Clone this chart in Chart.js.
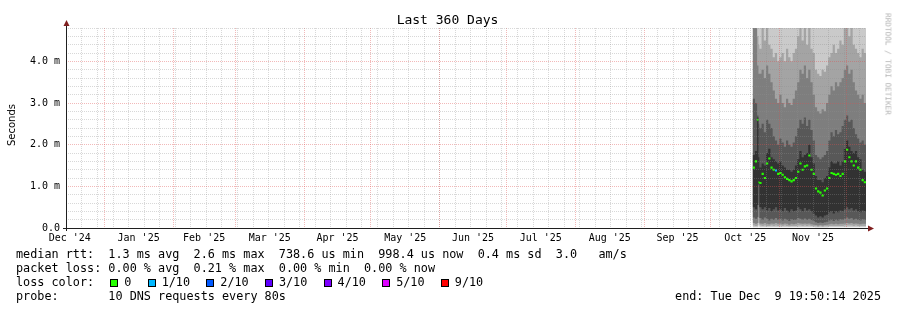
<!DOCTYPE html>
<html lang="en">
<head>
<meta charset="utf-8" />
<title>Last 360 Days</title>
<script src="https://cdnjs.cloudflare.com/ajax/libs/Chart.js/4.4.0/chart.umd.js"></script>
<style>
    body { margin: 0; background: #fff; }
    #wrap { position: relative; width: 897px; height: 310px; font-family: 'DejaVu Sans Mono', monospace; color: #000; }
    #wrap .txt { position: absolute; white-space: pre; }
    #title { left: 0; width: 895px; top: 12px; text-align: center; font-size: 13px; line-height: 15px; }
    #ylab { left: 12px; top: 125px; font-family: 'DejaVu Sans', sans-serif; font-size: 10px; line-height: 12px;
            transform: translate(-50%, -50%) rotate(-90deg); }
    #mark { left: 888px; top: 64px; font-size: 7.7px; line-height: 9px; color: #b4b4b4;
            transform: translate(-50%, -50%) rotate(90deg); }
    #legend { left: 16px; top: 247px; font-size: 11.8px; line-height: 14px; }
    #end { right: 16px; top: 289px; font-size: 11.8px; line-height: 14px; }
    .sq { display: inline-block; box-sizing: border-box; width: 8px; height: 8px; margin: 0 6px 0 2px;
          border: 1px solid #000; vertical-align: -1px; }
</style>
</head>
<body>
<div id="wrap">
    <canvas id="chart"></canvas>
    <div class="txt" id="title">Last 360 Days</div>
    <div class="txt" id="ylab">Seconds</div>
    <div class="txt" id="mark">RRDTOOL / TOBI OETIKER</div>
    <div class="txt" id="legend"></div>
    <div class="txt" id="end">end: Tue Dec  9 19:50:14 2025</div>
</div>
<script>
// x is days since the start of the 360 day window (Dec 14 2024 19:50)
const monthStarts = [-13.83, 17.17, 48.17, 76.17, 107.17, 137.17, 168.17, 198.17, 229.17, 260.17, 290.17, 321.17, 351.17];
const monthLabels = ["Dec '24", "Jan '25", "Feb '25", "Mar '25", "Apr '25", "May '25", "Jun '25",
                     "Jul '25", "Aug '25", "Sep '25", "Oct '25", "Nov '25"];
const firstSunday = 7.17;

const lossLabels = ['0', '1/10', '2/10', '3/10', '4/10', '5/10', '9/10'];
const lossColors = ['#26ff00', '#00b8ff', '#0059ff', '#5e00ff', '#7e00ff', '#dd00ff', '#ff0000'];

const days = [309, 310, 311, 311.6,
    312, 313, 314, 315, 316, 317, 318, 319, 320, 321,
    322, 323, 324, 325, 326, 327, 328, 329, 330, 331,
    332, 333, 334, 335, 336, 337, 338, 339, 340, 341,
    342, 343, 344, 345, 346, 347, 348, 349, 350, 351,
    352, 353, 354, 355, 356, 357, 358, 359, 360];

// median rtt in ms
const median = [1.45, 1.60, 2.60, 1.10,
    1.08, 1.30, 1.20, 1.55, 1.67, 1.45, 1.40, 1.38, 1.30, 1.32,
    1.28, 1.22, 1.18, 1.15, 1.12, 1.15, 1.20, 1.35, 1.55, 1.40,
    1.48, 1.50, 1.74, 1.40, 1.30, 0.95, 0.88, 0.85, 0.78, 0.90,
    0.95, 1.20, 1.32, 1.30, 1.28, 1.30, 1.25, 1.30, 1.60, 1.88,
    1.70, 1.60, 1.50, 1.60, 1.45, 1.40, 1.15, 1.10, 1.05];

// index into lossColors
const loss = [0, 0, 0, 0,
    0, 0, 0, 0, 0, 0, 0, 1, 0, 0,
    0, 0, 0, 0, 0, 0, 0, 0, 0, 0,
    0, 0, 0, 0, 0, 0, 0, 0, 0, 0,
    0, 0, 0, 0, 0, 0, 0, 0, 0, 0,
    0, 0, 0, 0, 0, 0, 0, 0, 0];

// sorted pings (smoke), ms
const p10 = [6.2, 6.0, 6.1, 5.9,
    5.8, 6.0, 6.1, 6.0, 5.9, 5.8, 5.7, 5.8, 5.9, 5.7,
    5.8, 5.6, 5.9, 5.8, 5.7, 5.8, 5.9, 6.0, 6.1, 6.0,
    6.1, 5.9, 6.2, 6.0, 5.8, 5.4, 5.3, 5.2, 5.4, 5.3,
    5.5, 5.7, 5.8, 5.9, 5.8, 6.0, 6.0, 6.1, 6.2, 6.3,
    6.1, 6.2, 6.0, 5.8, 5.7, 5.6, 5.8, 5.7, 5.7];
const p9 = [5.2, 5.1, 4.6, 4.4,
    4.3, 4.9, 4.5, 5.0, 4.4, 4.3, 4.1, 4.2, 4.0, 4.1,
    4.2, 4.0, 4.3, 4.1, 4.0, 4.2, 4.3, 4.6, 5.0, 4.5,
    4.9, 4.4, 4.8, 4.3, 4.2, 3.8, 3.7, 3.65, 3.8, 3.75,
    3.9, 4.1, 4.2, 4.4, 4.2, 4.3, 4.5, 4.4, 4.9, 5.0,
    4.6, 4.8, 4.4, 4.3, 4.2, 4.1, 4.3, 4.2, 4.3];
const p8 = [5.0, 4.9, 3.9, 3.7,
    3.7, 3.8, 3.6, 3.9, 3.7, 3.5, 3.3, 3.1, 3.0, 3.2,
    3.0, 2.9, 3.1, 3.0, 2.95, 3.1, 3.3, 3.5, 3.8, 3.7,
    3.9, 3.6, 3.8, 3.5, 3.2, 2.9, 2.8, 2.75, 2.85, 2.8,
    3.0, 3.2, 3.4, 3.3, 3.5, 3.4, 3.5, 3.6, 3.8, 3.9,
    3.7, 3.8, 3.5, 3.3, 3.2, 3.1, 3.2, 3.0, 3.1];
const p7 = [3.1, 3.0, 2.7, 2.5,
    2.4, 2.5, 2.3, 2.6, 2.5, 2.4, 2.2, 2.1, 2.0, 2.15,
    2.05, 1.95, 2.1, 2.0, 1.95, 2.05, 2.2, 2.4, 2.6, 2.5,
    2.65, 2.45, 2.6, 2.35, 2.1, 1.75, 1.7, 1.65, 1.7, 1.75,
    1.85, 2.1, 2.3, 2.2, 2.35, 2.25, 2.3, 2.45, 2.6, 2.7,
    2.55, 2.6, 2.4, 2.25, 2.15, 2.05, 2.1, 2.0, 2.05];
const p6 = [1.75, 1.85, 2.65, 1.7,
    1.45, 1.55, 1.5, 1.8, 1.9, 1.7, 1.65, 1.6, 1.55, 1.6,
    1.5, 1.45, 1.4, 1.4, 1.35, 1.4, 1.5, 1.65, 1.85, 1.7,
    1.75, 1.8, 2.0, 1.7, 1.55, 1.25, 1.15, 1.15, 1.1, 1.2,
    1.25, 1.45, 1.6, 1.55, 1.55, 1.6, 1.5, 1.6, 1.9, 2.1,
    1.95, 1.85, 1.8, 1.85, 1.7, 1.65, 1.4, 1.35, 1.3];
const p5 = [0.5, 0.45, 0.55, 1.05,
    0.5, 0.45, 0.5, 0.42, 0.48, 0.4, 0.45, 0.5, 0.42, 0.45,
    0.4, 0.48, 0.42, 0.38, 0.45, 0.4, 0.42, 0.5, 0.45, 0.4,
    0.48, 0.42, 0.45, 0.4, 0.35, 0.3, 0.25, 0.28, 0.25, 0.3,
    0.32, 0.38, 0.4, 0.35, 0.4, 0.38, 0.42, 0.4, 0.45, 0.5,
    0.45, 0.48, 0.42, 0.45, 0.4, 0.38, 0.42, 0.4, 0.38];
const p4 = [0.25, 0.22, 0.26, 1.05,
    0.24, 0.2, 0.25, 0.22, 0.18, 0.22, 0.2, 0.24, 0.2, 0.22,
    0.18, 0.22, 0.2, 0.17, 0.21, 0.19, 0.2, 0.24, 0.22, 0.2,
    0.23, 0.2, 0.22, 0.19, 0.17, 0.14, 0.12, 0.13, 0.12, 0.14,
    0.15, 0.18, 0.2, 0.17, 0.2, 0.18, 0.21, 0.2, 0.22, 0.25,
    0.22, 0.24, 0.2, 0.22, 0.2, 0.18, 0.21, 0.2, 0.19];
const p3 = [0.12, 0.1, 0.12, 1.05,
    0.11, 0.1, 0.12, 0.1, 0.09, 0.11, 0.1, 0.12, 0.1, 0.11,
    0.09, 0.11, 0.1, 0.08, 0.1, 0.09, 0.1, 0.12, 0.11, 0.1,
    0.11, 0.1, 0.11, 0.09, 0.08, 0.07, 0.06, 0.07, 0.06, 0.07,
    0.08, 0.09, 0.1, 0.09, 0.1, 0.09, 0.1, 0.1, 0.11, 0.12,
    0.11, 0.12, 0.1, 0.11, 0.1, 0.09, 0.1, 0.1, 0.09];
const p2 = [0.06, 0.05, 0.06, 1.05,
    0.06, 0.05, 0.06, 0.05, 0.05, 0.06, 0.05, 0.06, 0.05, 0.06,
    0.05, 0.06, 0.05, 0.04, 0.05, 0.05, 0.05, 0.06, 0.06, 0.05,
    0.06, 0.05, 0.06, 0.05, 0.04, 0.04, 0.03, 0.04, 0.03, 0.04,
    0.04, 0.05, 0.05, 0.05, 0.05, 0.05, 0.05, 0.05, 0.06, 0.06,
    0.06, 0.06, 0.05, 0.06, 0.05, 0.05, 0.05, 0.05, 0.05];
const p1 = [0.02, 0.02, 0.02, 1.05,
    0.02, 0.02, 0.02, 0.02, 0.02, 0.02, 0.02, 0.02, 0.02, 0.02,
    0.02, 0.02, 0.02, 0.02, 0.02, 0.02, 0.02, 0.02, 0.02, 0.02,
    0.02, 0.02, 0.02, 0.02, 0.02, 0.01, 0.01, 0.01, 0.01, 0.01,
    0.01, 0.02, 0.02, 0.02, 0.02, 0.02, 0.02, 0.02, 0.02, 0.02,
    0.02, 0.02, 0.02, 0.02, 0.02, 0.02, 0.02, 0.02, 0.02];

// legend below the graph
const legendLines = [
    'median rtt:  1.3 ms avg  2.6 ms max  738.6 us min  998.4 us now  0.4 ms sd  3.0   am/s',
    'packet loss: 0.00 % avg  0.21 % max  0.00 % min  0.00 % now',
    null,
    'probe:       10 DNS requests every 80s'
];
let lossLine = 'loss color:  ';
lossLabels.forEach((l, i) => {
    lossLine += '<span class="sq" style="background:' + lossColors[i] + '"></span>' + l + (i < lossLabels.length - 1 ? '  ' : '');
});
legendLines[2] = lossLine;
document.getElementById('legend').innerHTML = legendLines.join('\n');

const labelDays = monthLabels.map((_, i) => (monthStarts[i] + monthStarts[i + 1]) / 2);
const weekDays = [];
for (let d = firstSunday; d < 360; d += 7) weekDays.push(d);

const minorColor = 'rgba(143,143,143,0.35)';
const majorColor = 'rgba(222,79,79,0.4)';
const monoFont = { family: 'DejaVu Sans Mono', size: 10 };
const medianHalf = 0.025; // smokeping draws the median as a thin stacked band

const pts = (arr, dy = 0) => days.map((d, i) => ({ x: d, y: arr[i] + dy }));
const bands = [
    { lo: p1, hi: p10, color: '#cacaca' },
    { lo: p2, hi: p9, color: '#a4a4a4' },
    { lo: p3, hi: p8, color: '#7e7e7e' },
    { lo: p4, hi: p7, color: '#585858' },
    { lo: p5, hi: p6, color: '#323232' }
];
const datasets = [];
bands.forEach((b, k) => {
    const order = 50 - k * 10;
    datasets.push({ data: pts(b.lo), borderWidth: 0, pointRadius: 0, stepped: true, fill: false, order: order });
    datasets.push({ data: pts(b.hi), borderWidth: 0, pointRadius: 0, stepped: true, fill: '-1',
                    backgroundColor: b.color, order: order });
});
datasets.push({ data: pts(median, -medianHalf), borderWidth: 0, pointRadius: 0, stepped: true, fill: false, order: 0 });
datasets.push({
    data: pts(median, medianHalf), borderWidth: 0, pointRadius: 0, stepped: true, fill: '-1', order: 0,
    backgroundColor: lossColors[0],
    segment: { backgroundColor: c => lossColors[loss[c.p0DataIndex]] }
});

// axis lines with the little rrdtool arrows
const axisArrows = {
    id: 'axisArrows',
    afterDraw(chart) {
        const { ctx, chartArea: a } = chart;
        ctx.save();
        ctx.strokeStyle = '#1f1f1f';
        ctx.lineWidth = 1;
        ctx.beginPath();
        ctx.moveTo(a.left + 0.5, a.bottom + 3);
        ctx.lineTo(a.left + 0.5, a.top - 4);
        ctx.moveTo(a.left - 3, a.bottom + 0.5);
        ctx.lineTo(a.right + 3, a.bottom + 0.5);
        ctx.stroke();
        ctx.fillStyle = '#801f1f';
        ctx.beginPath();
        ctx.moveTo(a.left + 0.5, a.top - 8);
        ctx.lineTo(a.left + 3.5, a.top - 2);
        ctx.lineTo(a.left - 2.5, a.top - 2);
        ctx.closePath();
        ctx.fill();
        ctx.beginPath();
        ctx.moveTo(a.right + 8, a.bottom + 0.5);
        ctx.lineTo(a.right + 2, a.bottom + 3.5);
        ctx.lineTo(a.right + 2, a.bottom - 2.5);
        ctx.closePath();
        ctx.fill();
        ctx.restore();
    }
};

const gridAxis = (ticksList, color) => ({
    type: 'linear', min: 0, max: 360, position: 'bottom',
    afterFit: s => { s.height = 0; },
    afterBuildTicks: s => { s.ticks = ticksList.map(v => ({ value: v })); },
    grid: { color: color, lineWidth: 1, drawTicks: false, z: 1, borderDash: [1, 1] },
    border: { display: false, dash: [1, 1] },
    ticks: { display: false, autoSkip: false }
});

new Chart(document.getElementById('chart').getContext('2d'), {
    type: 'line',
    data: { datasets: datasets },
    options: {
        responsive: true,
        maintainAspectRatio: false,
        animation: false,
        layout: { padding: { top: 28, right: 31, left: 0, bottom: 0 } },
        plugins: { legend: { display: false }, tooltip: { enabled: false } },
        scales: {
            x: {
                type: 'linear', min: 0, max: 360, position: 'bottom',
                afterFit: s => { s.height = 82; },
                afterBuildTicks: s => { s.ticks = labelDays.map(v => ({ value: v })); },
                grid: { display: false, drawTicks: false },
                border: { display: false },
                ticks: { autoSkip: false, maxRotation: 0, padding: 4, color: '#000', font: monoFont,
                         callback: (v, i) => monthLabels[i] }
            },
            xWeek: gridAxis(weekDays, minorColor),
            xMonth: gridAxis(monthStarts.slice(1), majorColor),
            y: {
                type: 'linear', min: 0, max: 4.8,
                afterFit: s => { s.width = 66; },
                grid: {
                    color: c => Math.abs(c.tick.value - Math.round(c.tick.value)) < 1e-6 ? majorColor : minorColor,
                    lineWidth: 1, drawTicks: false, z: 1, borderDash: [1, 1]
                },
                border: { display: false, dash: [1, 1] },
                ticks: {
                    stepSize: 0.2, autoSkip: false, padding: 6, color: '#000', font: monoFont,
                    callback: v => {
                        if (Math.abs(v - Math.round(v)) > 1e-6) return '';
                        return v === 0 ? '0.0' : v.toFixed(1) + ' m';
                    }
                }
            }
        }
    },
    plugins: [axisArrows]
});
</script>
</body>
</html>
